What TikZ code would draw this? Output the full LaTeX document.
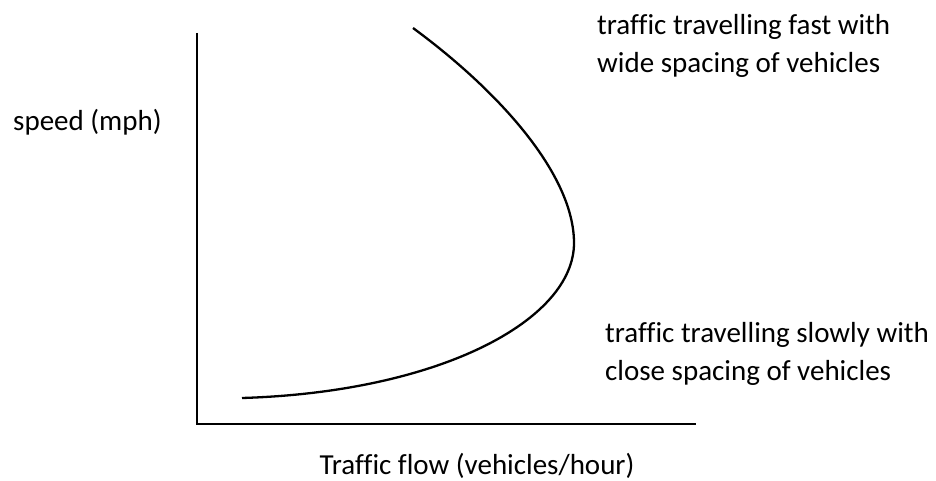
\documentclass[tikz,border=0pt]{standalone}
\usepackage{fontspec}
\setmainfont{Carlito}[Ligatures=NoCommon]
\begin{document}
\begin{tikzpicture}[x=1pt,y=-1pt,
  lbl/.style={font=\fontsize{29}{38}\selectfont, inner sep=0pt, align=left},
  axisline/.style={line width=2.8pt},
  curveline/.style={line width=2.3pt}]
\useasboundingbox (0,0) rectangle (936,481);
\coordinate (ytop) at (197,33);
\coordinate (origin) at (197,424);
\coordinate (xend) at (696,424);
\draw[axisline] (ytop) -- (origin) -- (xend);
\coordinate (cstart) at (413,28);
\coordinate (cnose) at (574,243);
\coordinate (cend) at (242,398);
\draw[curveline] (cstart) .. controls (500,92) and (574,175) .. (cnose)
  .. controls (574,320) and (440,392) .. (cend);
\node[lbl, anchor=base west] (speed) at (13,131) {speed (mph)};
\node[lbl, anchor=base west] (fast) at (597,35) {traffic travelling fast with};
\node[lbl, anchor=base west] (fast2) at (597,73) {wide spacing of vehicles};
\node[lbl, anchor=base west] (slow) at (605,342) {traffic travelling slowly with};
\node[lbl, anchor=base west] (slow2) at (605,380) {close spacing of vehicles};
\node[lbl, anchor=base] (flow) at (477,474) {Traffic flow (vehicles/hour)};
\end{tikzpicture}
\end{document}
